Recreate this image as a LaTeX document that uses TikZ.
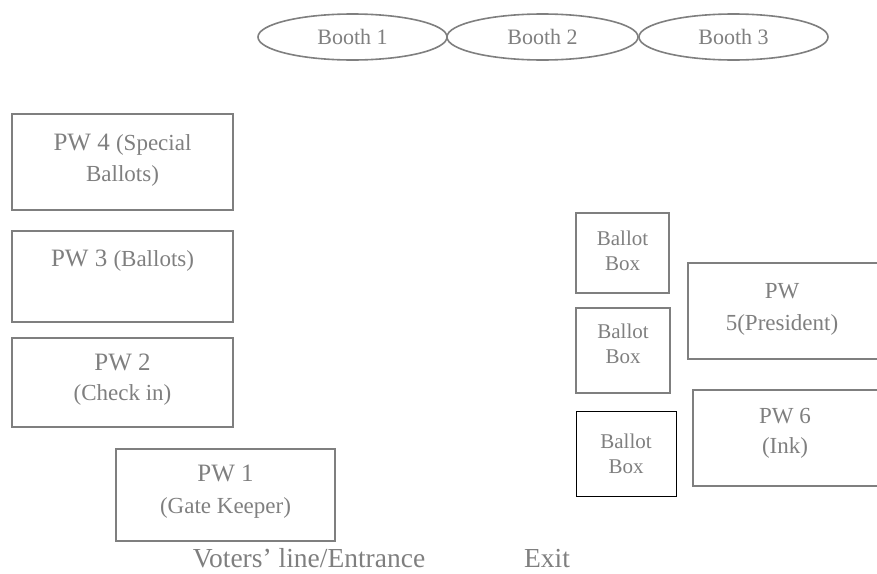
\documentclass[tikz,border=0pt]{standalone}
\usepackage{fontspec}
\setmainfont{Liberation Serif}
\usetikzlibrary{shapes.geometric}
\definecolor{txtgray}{HTML}{7F7F7F}
\definecolor{linegray}{HTML}{7F7F7F}
\tikzset{
  boxgray/.style={draw=linegray, line width=1.6pt, rectangle},
  boxblack/.style={draw=black, line width=1pt, rectangle},
  boothshape/.style={draw=linegray, line width=1.6pt, ellipse, inner sep=0pt,
     minimum width=189pt, minimum height=46pt, text=txtgray, font=\fontsize{22}{25}\selectfont},
  big/.style={anchor=base, inner sep=0pt, text=txtgray, font=\fontsize{25}{30}\selectfont},
  sub/.style={anchor=base, inner sep=0pt, text=txtgray, font=\fontsize{23}{28}\selectfont},
  small/.style={anchor=base, inner sep=0pt, text=txtgray, font=\fontsize{21}{25}\selectfont},
  bottom/.style={anchor=base, inner sep=0pt, text=txtgray, font=\fontsize{27.5}{32}\selectfont},
}
\begin{document}
\begin{tikzpicture}[x=1pt,y=-1pt]
\useasboundingbox (0,0) rectangle (877,573);
% booths
\node[boothshape] (b1) at (352.5,37) {Booth 1};
\node[boothshape, minimum width=191pt] (b2) at (542.5,37) {Booth 2};
\node[boothshape] (b3) at (733.5,37) {Booth 3};
% left boxes
\draw[boxgray] (12,114) rectangle (233,210);
\node[big] (pw4a) at (122.5,150) {PW 4 \fontsize{23}{28}\selectfont(Special};
\node[sub] (pw4b) at (122.5,181) {Ballots)};
\draw[boxgray] (12,231) rectangle (233,322);
\node[big] (pw3a) at (122.5,266) {PW 3 \fontsize{23}{28}\selectfont(Ballots)};
\draw[boxgray] (12,338) rectangle (233,427);
\node[big] (pw2a) at (122.5,370) {PW 2};
\node[sub] (pw2b) at (122.5,400) {(Check in)};
\draw[boxgray] (116,449) rectangle (335,541);
\node[big] (pw1a) at (225.5,481) {PW 1};
\node[sub] (pw1b) at (225.5,513) {(Gate Keeper)};
% ballot boxes
\draw[boxgray] (576,213) rectangle (669,293);
\node[small] (bb1a) at (622.5,245) {Ballot};
\node[small] (bb1b) at (622.5,270) {Box};
\draw[boxgray] (576,308) rectangle (670,393);
\node[small] (bb2a) at (623,338) {Ballot};
\node[small] (bb2b) at (623,363) {Box};
\draw[boxblack] (576,411) rectangle (676,496);
\node[small] (bb3a) at (626,448) {Ballot};
\node[small] (bb3b) at (626,473) {Box};
% right boxes
\draw[boxgray] (688,263) rectangle (878,359);
\node[sub] (pw5a) at (782,298) {PW};
\node[sub] (pw5b) at (782,330) {5(President)};
\draw[boxgray] (693,390) rectangle (878,486);
\node[sub] (pw6a) at (785,423) {PW 6};
\node[sub] (pw6b) at (785,453) {(Ink)};
% bottom labels
\node[bottom] (entr) at (309,567) {Voters’ line/Entrance};
\node[bottom] (exit) at (547,567) {Exit};
\end{tikzpicture}
\end{document}
